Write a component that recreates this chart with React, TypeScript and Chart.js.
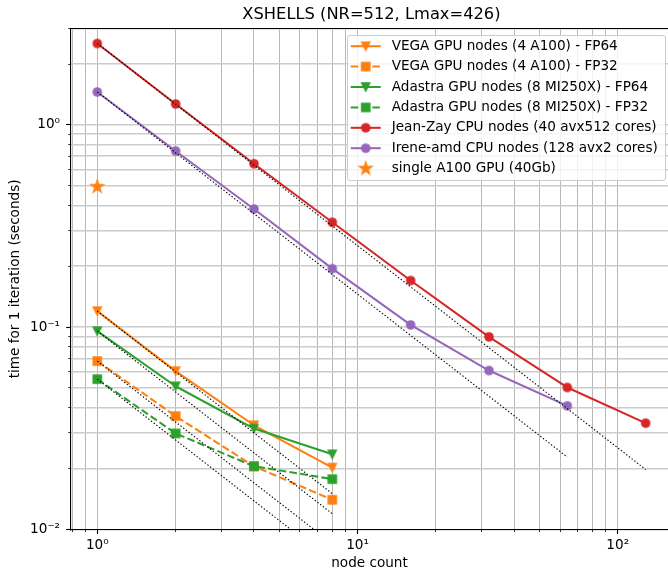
import React, { useEffect, useRef } from 'react';
import { Chart, registerables } from 'chart.js';

Chart.register(...registerables);

// ---------------- data ----------------
const nodesGpu = [1, 2, 4, 8];
const vegaFp64 = [0.12, 0.0606, 0.0327, 0.0202];
const vegaFp32 = [0.0679, 0.0363, 0.0205, 0.014];
const adastraFp64 = [0.0955, 0.051, 0.0315, 0.0235];
const adastraFp32 = [0.0553, 0.0298, 0.0205, 0.0177];
const nodesJeanZay = [1, 2, 4, 8, 16, 32, 64, 128];
const jeanZay = [2.53, 1.27, 0.643, 0.33, 0.17, 0.0895, 0.0503, 0.0335];
const nodesIrene = [1, 2, 4, 8, 16, 32, 64];
const irene = [1.456, 0.743, 0.384, 0.1946, 0.1026, 0.061, 0.0408];
const nodesSingleGpu = [1];
const singleA100 = [0.495];

const seriesLabels = [
  'VEGA GPU nodes (4 A100) - FP64',
  'VEGA GPU nodes (4 A100) - FP32',
  'Adastra GPU nodes (8 MI250X) - FP64',
  'Adastra GPU nodes (8 MI250X) - FP32',
  'Jean-Zay CPU nodes (40 avx512 cores)',
  'Irene-amd CPU nodes (128 avx2 cores)',
  'single A100 GPU (40Gb)',
];

const titleText = 'XSHELLS (NR=512, Lmax=426)';
const xAxisLabel = 'node count';
const yAxisLabel = 'time for 1 iteration (seconds)';

const xTickValues = [0.8, 0.9, 1, 2, 3, 4, 5, 6, 7, 8, 9, 10, 20, 30, 40, 50, 60, 70, 80, 90, 100];
const xMajorLabels = new Map<number, string>([[1, '10⁰'], [10, '10¹'], [100, '10²']]);
const yTickValues = [
  0.01, 0.02, 0.03, 0.04, 0.05, 0.06, 0.07, 0.08, 0.09,
  0.1, 0.2, 0.3, 0.4, 0.5, 0.6, 0.7, 0.8, 0.9,
  1, 2, 3,
];
const yMajorLabels = new Map<number, string>([[0.01, '10⁻²'], [0.1, '10⁻¹'], [1, '10⁰']]);

const X_MIN = 0.7924;
const X_MAX = 156;
const Y_MIN = 0.01;
const Y_MAX = 3;

// ---------------- styles ----------------
const ORANGE = '#ff7f0e';
const GREEN = '#2ca02c';
const RED = '#d62728';
const PURPLE = '#9467bd';
const FONT = '"DejaVu Sans", sans-serif';
const FS = 13.6;
const LW = 2.04;
const DASH = [7.55, 3.26];

type Series = { label: string; xs: number[]; ys: number[]; color: string; marker: string; dashed: boolean; line: boolean; ideal: boolean };

const series: Series[] = [
  { label: seriesLabels[0], xs: nodesGpu, ys: vegaFp64, color: ORANGE, marker: 'tri', dashed: false, line: true, ideal: true },
  { label: seriesLabels[1], xs: nodesGpu, ys: vegaFp32, color: ORANGE, marker: 'square', dashed: true, line: true, ideal: true },
  { label: seriesLabels[2], xs: nodesGpu, ys: adastraFp64, color: GREEN, marker: 'tri', dashed: false, line: true, ideal: true },
  { label: seriesLabels[3], xs: nodesGpu, ys: adastraFp32, color: GREEN, marker: 'square', dashed: true, line: true, ideal: true },
  { label: seriesLabels[4], xs: nodesJeanZay, ys: jeanZay, color: RED, marker: 'circle', dashed: false, line: true, ideal: true },
  { label: seriesLabels[5], xs: nodesIrene, ys: irene, color: PURPLE, marker: 'circle', dashed: false, line: true, ideal: true },
  { label: seriesLabels[6], xs: nodesSingleGpu, ys: singleA100, color: ORANGE, marker: 'star', dashed: false, line: false, ideal: false },
];

function makeMarker(shape: string, color: string): HTMLCanvasElement {
  const size = 24;
  const c = document.createElement('canvas');
  c.width = size;
  c.height = size;
  const g = c.getContext('2d')!;
  const cx = size / 2;
  const cy = size / 2;
  const ms = 8.2;
  g.fillStyle = color;
  g.strokeStyle = color;
  g.lineWidth = 1.36;
  g.lineJoin = 'miter';
  g.beginPath();
  if (shape === 'circle') {
    g.arc(cx, cy, ms / 2, 0, Math.PI * 2);
  } else if (shape === 'square') {
    g.rect(cx - ms / 2, cy - ms / 2, ms, ms);
  } else if (shape === 'tri') {
    g.moveTo(cx, cy + ms / 2);
    g.lineTo(cx - ms / 2, cy - ms / 2);
    g.lineTo(cx + ms / 2, cy - ms / 2);
    g.closePath();
  } else if (shape === 'star') {
    const R = 6.5;
    const r = R * 0.381966;
    for (let i = 0; i < 10; i++) {
      const ang = -Math.PI / 2 + (i * Math.PI) / 5;
      const rad = i % 2 === 0 ? R : r;
      const px = cx + rad * Math.cos(ang);
      const py = cy + rad * Math.sin(ang);
      if (i === 0) g.moveTo(px, py);
      else g.lineTo(px, py);
    }
    g.closePath();
  }
  g.fill();
  g.stroke();
  return c;
}

function alignPx(p: number) {
  return Math.round(p - 0.5) + 0.5;
}

export default function App() {
  const ref = useRef<HTMLCanvasElement | null>(null);

  useEffect(() => {
    const canvas = ref.current;
    if (!canvas) return;
    const markers = series.map((s) => makeMarker(s.marker, s.color));

    const datasets: any[] = [];
    series.forEach((s, i) => {
      datasets.push({
        label: s.label,
        data: s.xs.map((x, j) => ({ x, y: s.ys[j] })),
        borderColor: s.color,
        backgroundColor: s.color,
        borderWidth: LW,
        borderDash: s.dashed ? DASH : [],
        borderJoinStyle: 'round',
        showLine: s.line,
        pointStyle: markers[i],
        pointRadius: 4,
        order: 20 - i,
      });
    });
    series.forEach((s) => {
      if (!s.ideal) return;
      const x0 = s.xs[0];
      const y0 = s.ys[0];
      const x1 = s.xs[s.xs.length - 1];
      datasets.push({
        label: 'ideal',
        data: [
          { x: x0, y: y0 },
          { x: x1, y: (y0 * x0) / x1 },
        ],
        borderColor: '#000000',
        borderWidth: 1.1,
        borderDash: [1.4, 2.0],
        pointRadius: 0,
        order: 0,
      });
    });

    const decor = {
      id: 'decor',
      afterDraw(chart: any) {
        const { ctx, chartArea: a, scales } = chart;
        const xs = scales.x;
        const ys = scales.y;
        ctx.save();
        // top spine
        ctx.strokeStyle = '#000';
        ctx.lineWidth = 1.1;
        ctx.beginPath();
        ctx.moveTo(a.left, alignPx(a.top));
        ctx.lineTo(a.right, alignPx(a.top));
        ctx.stroke();
        // tick marks
        xTickValues.forEach((v) => {
          const p = xs.getPixelForValue(v);
          if (p < a.left - 0.5 || p > a.right + 0.5) return;
          const major = xMajorLabels.has(v);
          ctx.lineWidth = major ? 1.1 : 0.8;
          ctx.beginPath();
          ctx.moveTo(alignPx(p), a.bottom);
          ctx.lineTo(alignPx(p), a.bottom + (major ? 4.8 : 2.8));
          ctx.stroke();
        });
        yTickValues.forEach((v) => {
          const p = ys.getPixelForValue(v);
          if (p < a.top - 0.5 || p > a.bottom + 0.5) return;
          const major = yMajorLabels.has(v);
          ctx.lineWidth = major ? 1.1 : 0.8;
          ctx.beginPath();
          ctx.moveTo(a.left, alignPx(p));
          ctx.lineTo(a.left - (major ? 4.8 : 2.8), alignPx(p));
          ctx.stroke();
        });
        // title
        ctx.fillStyle = '#000';
        ctx.font = `16.3px ${FONT}`;
        ctx.textAlign = 'center';
        ctx.textBaseline = 'middle';
        const midX = xs.getPixelForValue(Math.sqrt(nodesJeanZay[0] * nodesJeanZay[nodesJeanZay.length - 1]));
        ctx.fillText(titleText, midX, 14.3);

        // legend
        const bx = a.right - 320.5;
        const by = a.top + 7;
        const bw = 318;
        const bh = 145;
        ctx.beginPath();
        (ctx as any).roundRect(bx, by, bw, bh, 2.7);
        ctx.fillStyle = 'rgba(255,255,255,0.8)';
        ctx.fill();
        ctx.strokeStyle = '#cccccc';
        ctx.lineWidth = 1;
        ctx.stroke();
        ctx.font = `${FS}px ${FONT}`;
        ctx.textAlign = 'left';
        ctx.textBaseline = 'middle';
        series.forEach((s, i) => {
          const cy = by + 10.7 + i * 20.4;
          const hx0 = bx + 3.2;
          const hx1 = bx + 33.2;
          const hc = (hx0 + hx1) / 2;
          if (s.line) {
            ctx.strokeStyle = s.color;
            ctx.lineWidth = LW;
            ctx.setLineDash(s.dashed ? DASH : []);
            ctx.beginPath();
            ctx.moveTo(hx0, cy);
            ctx.lineTo(hx1, cy);
            ctx.stroke();
            ctx.setLineDash([]);
          }
          const m = markers[i];
          ctx.drawImage(m, hc - m.width / 2, cy - m.height / 2);
          ctx.fillStyle = '#000';
          ctx.fillText(s.label, bx + 44.2, cy);
        });
        ctx.restore();
      },
    };

    const chart = new Chart(canvas, {
      type: 'line',
      data: { datasets },
      options: {
        responsive: false,
        animation: false,
        events: [],
        font: { family: FONT },
        layout: { autoPadding: false, padding: { top: 28.5, left: 0, right: 0, bottom: 0 } },
        plugins: {
          legend: { display: false },
          tooltip: { enabled: false },
          title: { display: false },
        },
        scales: {
          x: {
            type: 'logarithmic',
            position: 'bottom',
            min: X_MIN,
            max: X_MAX,
            afterBuildTicks: (s: any) => {
              s.ticks = xTickValues.map((v) => ({ value: v }));
            },
            afterFit: (s: any) => {
              s.height = 42.7;
              s.paddingLeft = 0;
              s.paddingRight = 0;
            },
            ticks: {
              autoSkip: false,
              maxRotation: 0,
              minRotation: 0,
              padding: 8,
              color: '#000',
              font: { family: FONT, size: FS },
              callback: (v: any) => xMajorLabels.get(Number(v)) ?? '',
            },
            grid: { color: '#b8b8b8', lineWidth: 1, drawTicks: false },
            border: { display: true, color: '#000', width: 1.1 },
            title: {
              display: true,
              text: xAxisLabel,
              color: '#000',
              font: { family: FONT, size: FS },
              padding: { top: 0, bottom: 0 },
            },
          },
          y: {
            type: 'logarithmic',
            position: 'left',
            min: Y_MIN,
            max: Y_MAX,
            afterBuildTicks: (s: any) => {
              s.ticks = yTickValues.map((v) => ({ value: v }));
            },
            afterFit: (s: any) => {
              s.width = 71;
              s.paddingTop = 0;
              s.paddingBottom = 0;
            },
            ticks: {
              autoSkip: false,
              padding: 11,
              color: '#000',
              font: { family: FONT, size: FS },
              callback: (v: any) => yMajorLabels.get(Number(v)) ?? '',
            },
            grid: { color: '#cccccc', lineWidth: 1.6, drawTicks: false },
            border: { display: true, color: '#000', width: 1.1 },
            title: {
              display: true,
              text: yAxisLabel,
              color: '#000',
              font: { family: FONT, size: FS },
              padding: { top: 7, bottom: 0 },
            },
          },
        },
      },
      plugins: [decor],
    } as any);

    return () => chart.destroy();
  }, []);

  return (
    <canvas
      ref={ref}
      width={668}
      height={572}
      style={{ position: 'fixed', left: 0, top: 0, width: '668px', height: '572px', display: 'block' }}
    />
  );
}
